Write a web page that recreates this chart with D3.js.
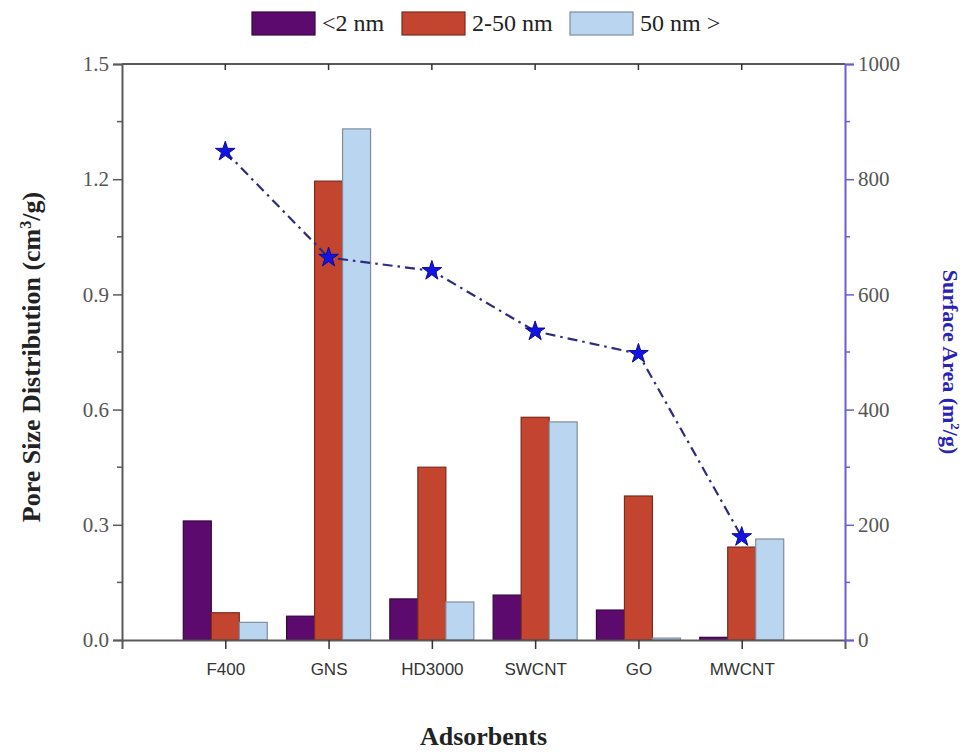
<!DOCTYPE html>
<html>
<head>
<meta charset="utf-8">
<script src="https://cdn.jsdelivr.net/npm/d3@7"></script>
<style>
  body { margin: 0; background: #fff; }
</style>
</head>
<body>
<svg id="chart"></svg>
<script>
const categories = ['F400', 'GNS', 'HD3000', 'SWCNT', 'GO', 'MWCNT'];
const seriesNames = ['<2 nm', '2-50 nm', '50 nm >'];
const micro = [0.31, 0.062, 0.107, 0.117, 0.078, 0.007];
const meso = [0.071, 1.195, 0.45, 0.58, 0.375, 0.242];
const macro = [0.046, 1.331, 0.099, 0.568, 0.005, 0.263];
const surfaceArea = [848, 664, 641, 536, 497, 179];
const leftTicks = [0, 0.3, 0.6, 0.9, 1.2, 1.5];
const leftMinor = [0.15, 0.45, 0.75, 1.05, 1.35];
const rightTicks = [0, 200, 400, 600, 800, 1000];
const rightMinor = [100, 300, 500, 700, 900];

const fills = ['#5d0a6f', '#c4452f', '#b9d5ef'];
const strokes = ['#35053f', '#7c2a1c', '#7f8e9e'];

const width = 971, height = 753;
const margin = { top: 64, right: 126, bottom: 113, left: 122 };
const innerW = width - margin.left - margin.right;
const innerH = height - margin.top - margin.bottom;

const svg = d3.select('#chart').attr('width', width).attr('height', height);
const g = svg.append('g').attr('transform', `translate(${margin.left},${margin.top})`);

const x = d3.scalePoint().domain(categories).range([0, innerW]).padding(1);
const xSub = d3.scaleBand().domain(seriesNames).range([-42, 42]);
const y = d3.scaleLinear().domain([0, 1.5]).range([innerH, 0]);
const y2 = d3.scaleLinear().domain([0, 1000]).range([innerH, 0]);

const rows = categories.map((c, i) => ({ cat: c, vals: [micro[i], meso[i], macro[i]] }));

// bars
g.selectAll('.grp')
    .data(rows)
    .join('g')
    .attr('transform', d => `translate(${x(d.cat)},0)`)
    .selectAll('rect')
    .data(d => d.vals.map((v, k) => ({ v, k })))
    .join('rect')
    .attr('x', d => xSub(seriesNames[d.k]))
    .attr('width', xSub.bandwidth())
    .attr('y', d => y(d.v))
    .attr('height', d => innerH - y(d.v))
    .attr('fill', d => fills[d.k])
    .attr('stroke', d => strokes[d.k])
    .attr('stroke-width', 1.2);

// frame: top line
const axisGray = '#5a5a5a';
g.append('line').attr('x1', 0).attr('x2', innerW).attr('y1', 0).attr('y2', 0)
    .attr('stroke', axisGray).attr('stroke-width', 2);

// bottom axis
const xAxis = g.append('g').attr('transform', `translate(0,${innerH})`)
    .call(d3.axisBottom(x).tickSize(9).tickPadding(14));
xAxis.select('.domain').attr('stroke', axisGray).attr('stroke-width', 2);
xAxis.selectAll('.tick line').attr('stroke', '#333').attr('stroke-width', 1.5);
xAxis.selectAll('text')
    .style('font-family', '"Liberation Sans", Arial, sans-serif')
    .style('font-size', '17px')
    .attr('fill', '#333');

// top ticks (inward)
g.selectAll('.topTick')
    .data(categories)
    .join('line')
    .attr('x1', d => x(d)).attr('x2', d => x(d))
    .attr('y1', 0).attr('y2', 6)
    .attr('stroke', '#333').attr('stroke-width', 1.5);

// left axis
const yAxis = g.append('g')
    .call(d3.axisLeft(y).tickValues(leftTicks).tickFormat(d3.format('.1f')).tickSize(9).tickPadding(4));
yAxis.select('.domain').attr('stroke', axisGray).attr('stroke-width', 2);
yAxis.selectAll('.tick line').attr('stroke', axisGray).attr('stroke-width', 1.5);
yAxis.selectAll('text')
    .style('font-family', '"Liberation Serif", "Times New Roman", serif')
    .style('font-size', '21px')
    .attr('fill', '#555');
g.selectAll('.lminor')
    .data(leftMinor)
    .join('line')
    .attr('x1', -5).attr('x2', 0)
    .attr('y1', d => y(d)).attr('y2', d => y(d))
    .attr('stroke', axisGray).attr('stroke-width', 1.5);

// right axis
const axisBlue = '#6a5fcf';
const y2Axis = g.append('g').attr('transform', `translate(${innerW},0)`)
    .call(d3.axisRight(y2).tickValues(rightTicks).tickFormat(d3.format('d')).tickSize(9).tickPadding(4));
y2Axis.select('.domain').attr('stroke', axisBlue).attr('stroke-width', 2);
y2Axis.selectAll('.tick line').attr('stroke', axisBlue).attr('stroke-width', 1.5);
y2Axis.selectAll('text')
    .style('font-family', '"Liberation Serif", "Times New Roman", serif')
    .style('font-size', '21px')
    .attr('fill', '#555');
g.selectAll('.rminor')
    .data(rightMinor)
    .join('line')
    .attr('x1', innerW).attr('x2', innerW + 5)
    .attr('y1', d => y2(d)).attr('y2', d => y2(d))
    .attr('stroke', axisBlue).attr('stroke-width', 1.5);

// surface area line
const line = d3.line()
    .x((d, i) => x(categories[i]))
    .y(d => y2(d));
g.append('path')
    .datum(surfaceArea)
    .attr('d', line)
    .attr('fill', 'none')
    .attr('stroke', '#2c2c7c')
    .attr('stroke-width', 2.2)
    .attr('stroke-dasharray', '10,5,2.5,5');

const star = d3.symbol().type(d3.symbolStar).size(120);
g.selectAll('.star')
    .data(surfaceArea)
    .join('path')
    .attr('d', star)
    .attr('transform', (d, i) => `translate(${x(categories[i])},${y2(d)})`)
    .attr('fill', '#1414e0')
    .attr('stroke', '#0a0a9a')
    .attr('stroke-width', 1);

// axis titles
svg.append('text')
    .attr('transform', `translate(40,${margin.top + innerH / 2 + 5}) rotate(-90)`)
    .attr('text-anchor', 'middle')
    .style('font-family', '"Liberation Serif", "Times New Roman", serif')
    .style('font-size', '26px')
    .style('font-weight', 'bold')
    .attr('fill', '#222')
    .html('Pore Size Distribution (cm<tspan dy="-9" font-size="16">3</tspan><tspan dy="9">/g)</tspan>');

svg.append('text')
    .attr('transform', `translate(943,362) rotate(90)`)
    .attr('text-anchor', 'middle')
    .style('font-family', '"Liberation Serif", "Times New Roman", serif')
    .style('font-size', '22px')
    .style('font-weight', 'bold')
    .attr('fill', '#2a22b4')
    .html('Surface Area (m<tspan dy="-8" font-size="13">2</tspan><tspan dy="8">/g)</tspan>');

svg.append('text')
    .attr('x', margin.left + innerW / 2)
    .attr('y', 745)
    .attr('text-anchor', 'middle')
    .style('font-family', '"Liberation Serif", "Times New Roman", serif')
    .style('font-size', '26px')
    .style('font-weight', 'bold')
    .attr('fill', '#222')
    .text('Adsorbents');

// legend
const legendX = [252, 402, 570];
const legend = svg.append('g');
seriesNames.forEach((name, k) => {
    legend.append('rect')
        .attr('x', legendX[k]).attr('y', 12)
        .attr('width', 63).attr('height', 23)
        .attr('fill', fills[k])
        .attr('stroke', strokes[k])
        .attr('stroke-width', 1.2);
    legend.append('text')
        .attr('x', legendX[k] + 70).attr('y', 31)
        .style('font-family', '"Liberation Serif", "Times New Roman", serif')
        .style('font-size', '24px')
        .attr('fill', '#222')
        .text(name);
});
</script>
</body>
</html>
